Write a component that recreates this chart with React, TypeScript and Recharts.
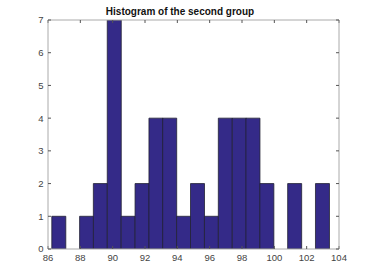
import { BarChart, Bar, XAxis, YAxis } from "recharts";

// bin centres of the histogram (20 bins, ~0.86 wide)
const binCenters = [
  86.66, 87.52, 88.38, 89.23, 90.09, 90.95, 91.81, 92.67, 93.52, 94.38,
  95.24, 96.1, 96.96, 97.82, 98.67, 99.53, 100.39, 101.25, 102.11, 102.97,
];
const counts = [1, 0, 1, 2, 7, 1, 2, 4, 4, 1, 2, 1, 4, 4, 4, 2, 0, 2, 0, 2];

const xTicks = [86, 88, 90, 92, 94, 96, 98, 100, 102, 104];
const yTicks = [0, 1, 2, 3, 4, 5, 6, 7];

const title = "Histogram of the second group";

const data = binCenters.map((c, i) => ({ center: c, count: counts[i] }));

const FONT = "'Liberation Sans', Arial, sans-serif";
const AXIS_GRAY = "#aaaaaa";
const TICK_GRAY = "#555555";
const TEXT_GRAY = "#444444";

export default function App() {
  const tickStyle = { fontSize: 9.5, fill: TEXT_GRAY, fontFamily: FONT };
  return (
    <div style={{ position: "absolute", left: 0, top: 0, width: 374, height: 280, background: "#fff" }}>
      <BarChart
        width={374}
        height={280}
        data={data}
        margin={{ top: 19, right: 34, bottom: 0, left: 0 }}
        barCategoryGap={0}
        barGap={0}
      >
        <XAxis
          dataKey="center"
          type="number"
          domain={[86, 104]}
          ticks={xTicks}
          allowDataOverflow
          height={31}
          tickSize={-3}
          tickMargin={8}
          tick={tickStyle}
          axisLine={{ stroke: AXIS_GRAY }}
          tickLine={{ stroke: TICK_GRAY }}
        />
        <XAxis
          xAxisId="top"
          dataKey="center"
          type="number"
          orientation="top"
          domain={[86, 104]}
          ticks={xTicks}
          allowDataOverflow
          height={1}
          tickSize={-3}
          tickFormatter={() => ""}
          axisLine={{ stroke: AXIS_GRAY }}
          tickLine={{ stroke: TICK_GRAY }}
        />
        <YAxis
          type="number"
          domain={[0, 7]}
          ticks={yTicks}
          allowDataOverflow
          width={48}
          tickSize={-3}
          tickMargin={7.5}
          tick={tickStyle}
          axisLine={{ stroke: AXIS_GRAY }}
          tickLine={{ stroke: TICK_GRAY }}
        />
        <YAxis
          yAxisId="right"
          orientation="right"
          type="number"
          domain={[0, 7]}
          ticks={yTicks}
          allowDataOverflow
          width={1}
          tickSize={-3}
          tickFormatter={() => ""}
          axisLine={{ stroke: AXIS_GRAY }}
          tickLine={{ stroke: TICK_GRAY }}
        />
        <Bar
          dataKey="count"
          fill="#342a88"
          stroke="#222233"
          strokeWidth={0.8}
          isAnimationActive={false}
        />
      </BarChart>
      <svg
        width={374}
        height={20}
        style={{ position: "absolute", left: 0, top: 0, pointerEvents: "none" }}
      >
        <text x={180} y={15} textAnchor="middle" fontFamily={FONT} fontWeight="bold" fontSize={10} fill="#111">
          {title}
        </text>
      </svg>
    </div>
  );
}
